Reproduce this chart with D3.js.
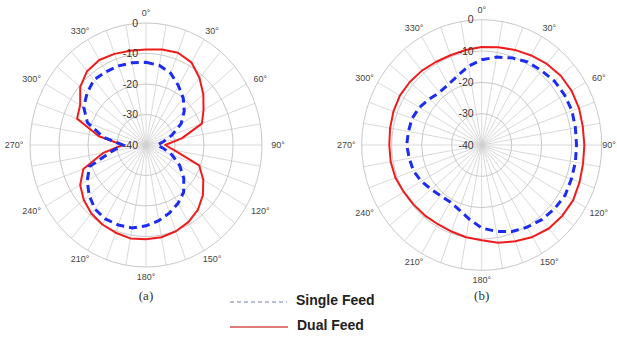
<!DOCTYPE html>
<html>
<head>
<meta charset="utf-8">
<script src="https://cdn.jsdelivr.net/npm/d3@7"></script>
<style>
  body { margin: 0; background: #fff; }
  svg { display: block; }
</style>
</head>
<body>
<div id="chart"></div>
<script>
// Angles (degrees, clockwise from top)
const angles = [0, 10, 20, 30, 40, 50, 60, 70, 80, 90, 100, 110, 120, 130, 140, 150, 160, 170,
  180, 190, 200, 210, 220, 230, 240, 250, 260, 270, 280, 290, 300, 310, 320, 330, 340, 350];

// (a) pattern, dB
const dualA = [-8.7, -8.2, -7.8, -8.7, -11.3, -14.2, -17.1, -19.5, -27.5, -33.4, -30, -20.5,
  -17.2, -14.4, -12.2, -10.8, -9.9, -9.3, -9.1, -8.9, -9.4, -9.9, -10.7, -12.0,
  -13.8, -17.0, -25.0, -32.0, -23.5, -14.7, -13.8, -10.4, -8.4, -7.8, -8.2, -8.6];
const singleA = [-12.9, -13.5, -15.0, -17.6, -20.0, -22.8, -26.0, -30.5, -34.0, -36.2, -34.0, -30.5,
  -26.6, -23.0, -19.8, -17.9, -16.3, -14.8, -13.5, -12.4, -12.1, -12.0, -12.6, -14.4,
  -16.6, -19.3, -28.0, -32.0, -25.0, -18.5, -15.2, -13.5, -12.1, -12.3, -12.4, -12.6];

// (b) pattern, dB
const dualB = [-8.7, -8.3, -7.7, -7.0, -6.2, -5.6, -5.4, -5.5, -5.8, -5.8, -5.7, -5.3,
  -4.8, -4.9, -5.2, -6.1, -7.3, -8.3, -9.6, -10.1, -10.6, -10.8, -10.6, -10.4,
  -10.0, -9.4, -9.2, -9.2, -9.0, -8.7, -8.5, -8.7, -9.0, -9.4, -9.5, -9.2];
const singleB = [-12.8, -11.5, -10.4, -9.4, -9.0, -8.3, -8.1, -8.0, -8.3, -8.4, -8.3, -8.2,
  -7.9, -8.3, -8.9, -9.7, -10.6, -12.0, -13.5, -16.0, -18.0, -19.0, -18.8, -18.0,
  -16.8, -15.8, -15.5, -15.0, -15.2, -15.3, -16.0, -17.2, -18.1, -17.7, -16.5, -14.5];

// Ring ticks and angle labels
const ringTicks = [-40, -30, -20, -10, 0];
const angleLabels = [0, 30, 60, 90, 120, 150, 180, 210, 240, 270, 300, 330];
const captions = ["(a)", "(b)"];
const seriesNames = ["Single Feed", "Dual Feed"];

const W = 617, H = 338;
const RED = "#ee1c1c", BLUE = "#1c2cf0";

const svg = d3.select("#chart")
  .append("svg")
  .attr("width", W)
  .attr("height", H)
  .style("font-family", "'Liberation Sans', Arial, sans-serif");

function drawPolar(cx, cy, R, kx, dual, single, caption) {
  // radius scale, -40 dB at the centre
  const rScale = d3.scaleLinear().domain([-40, 0]).range([0, R]);
  const rad = d => d * Math.PI / 180;
  // the plots are a little narrower than tall, so x is squeezed by kx
  const px = (a, v) => cx + kx * rScale(v) * Math.sin(rad(a));
  const py = (a, v) => cy - rScale(v) * Math.cos(rad(a));

  const g = svg.append("g");

  // spokes every 10 degrees
  g.selectAll(".spoke")
    .data(angles)
    .enter()
    .append("line")
    .attr("x1", cx)
    .attr("y1", cy)
    .attr("x2", a => px(a, 0))
    .attr("y2", a => py(a, 0))
    .attr("stroke", "#cfcfcf")
    .attr("stroke-width", 0.8);

  // rings
  g.selectAll(".ring")
    .data(ringTicks.filter(d => d > -40))
    .enter()
    .append("ellipse")
    .attr("cx", cx)
    .attr("cy", cy)
    .attr("rx", d => kx * rScale(d))
    .attr("ry", d => rScale(d))
    .attr("fill", "none")
    .attr("stroke", "#c8c8c8")
    .attr("stroke-width", 1);

  const line = d3.line()
    .x(d => px(d[0], d[1]))
    .y(d => py(d[0], d[1]))
    .curve(d3.curveLinearClosed);

  // dual feed, solid red
  g.append("path")
    .attr("d", line(angles.map((a, i) => [a, dual[i]])))
    .attr("fill", "none")
    .attr("stroke", RED)
    .attr("stroke-width", 2)
    .attr("stroke-linejoin", "round");

  // single feed, dashed blue
  g.append("path")
    .attr("d", line(angles.map((a, i) => [a, single[i]])))
    .attr("fill", "none")
    .attr("stroke", BLUE)
    .attr("stroke-width", 3)
    .attr("stroke-dasharray", "8,5");

  // dB tick labels along the 0 degree spoke
  g.selectAll(".tick")
    .data(ringTicks)
    .enter()
    .append("text")
    .attr("x", cx - 8)
    .attr("y", d => cy - rScale(d))
    .attr("dy", "0.35em")
    .attr("text-anchor", "end")
    .attr("font-size", "10.5px")
    .attr("fill", "#333")
    .text(d => d);

  // angle labels (kept inside the page)
  g.selectAll(".ang")
    .data(angleLabels)
    .enter()
    .append("text")
    .attr("x", a => Math.min(cx + (R + 10) * Math.sin(rad(a)), W - 8))
    .attr("y", a => cy - (R + 10) * Math.cos(rad(a)))
    .attr("dy", "0.35em")
    .attr("text-anchor", "middle")
    .attr("font-size", "9px")
    .attr("fill", "#444")
    .text(a => a + "°");

  // caption
  g.append("text")
    .attr("x", cx)
    .attr("y", 300)
    .attr("text-anchor", "middle")
    .attr("font-family", "'Liberation Serif', 'Times New Roman', serif")
    .attr("font-size", "13px")
    .attr("fill", "#333")
    .text(caption);
}

drawPolar(146, 145, 122, 0.951, dualA, singleA, captions[0]);
drawPolar(481.7, 145, 125.3, 0.958, dualB, singleB, captions[1]);

// Legend
const legend = svg.append("g");
const legendY = [302, 327];

legend.append("line")
  .attr("x1", 230).attr("x2", 287)
  .attr("y1", legendY[0]).attr("y2", legendY[0])
  .attr("stroke", "#a4a8cc")
  .attr("stroke-width", 1.5)
  .attr("stroke-dasharray", "4,3");

legend.append("line")
  .attr("x1", 230).attr("x2", 288)
  .attr("y1", legendY[1]).attr("y2", legendY[1])
  .attr("stroke", "#e07c7c")
  .attr("stroke-width", 2);

legend.selectAll(".lbl")
  .data(seriesNames)
  .enter()
  .append("text")
  .attr("x", (d, i) => i === 0 ? 296 : 297)
  .attr("y", (d, i) => legendY[i] + 3)
  .attr("font-size", "14px")
  .attr("font-weight", "bold")
  .attr("fill", "#222")
  .text(d => d);
</script>
</body>
</html>
